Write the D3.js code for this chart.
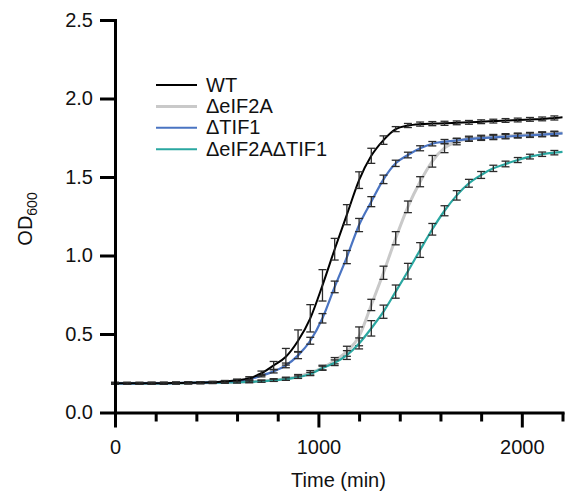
<!DOCTYPE html>
<html>
<head>
<meta charset="utf-8">
<script src="https://cdn.jsdelivr.net/npm/d3@7/dist/d3.min.js"></script>
<style>
  html, body { margin: 0; padding: 0; background: #fff; }
  svg { display: block; font-family: Arial, "Liberation Sans", Helvetica, sans-serif; }
</style>
</head>
<body>
<svg id="chart" width="568" height="496"></svg>
<script>
// Sampling times (min); the final entry only carries the curve to the axis end
const times = [0, 60, 120, 180, 240, 300, 360, 420, 480, 540, 600, 660, 720, 780, 840, 900,
  960, 1020, 1080, 1140, 1200, 1260, 1320, 1380, 1440, 1500, 1560, 1620, 1680, 1740, 1800,
  1860, 1920, 1980, 2040, 2100, 2160, 2200];

const seriesNames = ["WT", "ΔeIF2A", "ΔTIF1", "ΔeIF2AΔTIF1"];

// Mean OD600 for each strain
const wtOD = [0.186, 0.186, 0.186, 0.187, 0.187, 0.188, 0.189, 0.190, 0.193, 0.198, 0.205, 0.218,
  0.250, 0.300, 0.355, 0.457, 0.600, 0.810, 1.040, 1.260, 1.480, 1.635, 1.735, 1.805, 1.828,
  1.837, 1.840, 1.842, 1.845, 1.848, 1.852, 1.856, 1.860, 1.863, 1.867, 1.870, 1.876, 1.880];
const eif2aOD = [0.186, 0.186, 0.186, 0.186, 0.186, 0.187, 0.188, 0.189, 0.190, 0.192, 0.194, 0.196,
  0.200, 0.207, 0.215, 0.230, 0.253, 0.285, 0.330, 0.390, 0.485, 0.685, 0.890, 1.110, 1.310,
  1.470, 1.600, 1.685, 1.725, 1.745, 1.752, 1.757, 1.762, 1.766, 1.770, 1.774, 1.778, 1.780];
const tif1OD = [0.186, 0.186, 0.186, 0.187, 0.187, 0.188, 0.189, 0.190, 0.193, 0.197, 0.203, 0.212,
  0.235, 0.262, 0.300, 0.364, 0.457, 0.600, 0.800, 0.990, 1.194, 1.343, 1.485, 1.587, 1.640,
  1.683, 1.712, 1.725, 1.733, 1.741, 1.747, 1.752, 1.757, 1.762, 1.766, 1.770, 1.775, 1.778];
const doubleOD = [0.186, 0.186, 0.186, 0.186, 0.186, 0.187, 0.188, 0.189, 0.190, 0.191, 0.193, 0.195,
  0.199, 0.205, 0.213, 0.225, 0.245, 0.283, 0.317, 0.366, 0.440, 0.536, 0.642, 0.770, 0.900,
  1.035, 1.167, 1.285, 1.383, 1.460, 1.513, 1.555, 1.583, 1.608, 1.630, 1.645, 1.655, 1.660];

// Standard deviations (null = no error bar)
const wtSD = [0.005, 0.005, 0.005, 0.005, 0.005, 0.005, 0.005, 0.005, 0.005, 0.006, 0.008, 0.010,
  0.014, 0.025, 0.053, 0.069, 0.087, 0.100, 0.069, 0.064, 0.053, 0.048, 0.027, 0.016, 0.013,
  0.013, 0.013, 0.013, 0.012, 0.012, 0.012, 0.012, 0.012, 0.012, 0.012, 0.012, 0.013, null];
const eif2aSD = [0.005, 0.005, 0.005, 0.005, 0.005, 0.005, 0.005, 0.005, 0.005, 0.005, 0.005, 0.005,
  0.006, 0.008, 0.010, 0.012, 0.014, 0.016, 0.020, 0.032, 0.060, 0.036, 0.042, 0.042, 0.037,
  0.032, 0.037, 0.030, 0.020, 0.015, 0.014, 0.014, 0.014, 0.014, 0.014, 0.014, 0.014, null];
const tif1SD = [0.005, 0.005, 0.005, 0.005, 0.005, 0.005, 0.005, 0.005, 0.005, 0.005, 0.005, 0.006,
  0.008, 0.010, 0.015, 0.021, 0.022, 0.030, 0.037, 0.042, 0.042, 0.032, 0.027, 0.020, 0.018,
  0.016, 0.014, 0.014, 0.014, 0.014, 0.014, 0.014, 0.014, 0.014, 0.014, 0.014, 0.014, null];
const doubleSD = [0.005, 0.005, 0.005, 0.005, 0.005, 0.005, 0.005, 0.005, 0.005, 0.005, 0.005, 0.005,
  0.006, 0.007, 0.008, 0.008, 0.010, 0.012, 0.018, 0.028, 0.035, 0.049, 0.042, 0.042, 0.050,
  0.047, 0.037, 0.032, 0.030, 0.025, 0.022, 0.020, 0.018, 0.016, 0.015, 0.014, 0.014, null];

const yTicks = [0, 0.5, 1.0, 1.5, 2.0, 2.5];
const xMajorTicks = [0, 1000, 2000];
const xMinorTicks = [200, 400, 600, 800, 1200, 1400, 1600, 1800, 2200];

const colors = {
  "WT": "#000000",
  "ΔeIF2A": "#c9c9c9",
  "ΔTIF1": "#4a74c2",
  "ΔeIF2AΔTIF1": "#2aa7a1"
};
const widths = { "WT": 2, "ΔeIF2A": 3, "ΔTIF1": 2.2, "ΔeIF2AΔTIF1": 2.2 };

const series = [
  { name: "WT", od: wtOD, sd: wtSD },
  { name: "ΔeIF2A", od: eif2aOD, sd: eif2aSD },
  { name: "ΔTIF1", od: tif1OD, sd: tif1SD },
  { name: "ΔeIF2AΔTIF1", od: doubleOD, sd: doubleSD }
];

const svg = d3.select("#chart");
const x = d3.scaleLinear().domain([0, 2200]).range([115, 562.5]);
const y = d3.scaleLinear().domain([0, 2.5]).range([412.5, 20]);

const font = "Arial, 'Liberation Sans', Helvetica, sans-serif";

// Curves, drawn back to front, each with its error bars on top
const drawOrder = ["ΔeIF2A", "ΔeIF2AΔTIF1", "ΔTIF1", "WT"];
const line = d3.line()
  .x(d => x(d.t))
  .y(d => y(d.v))
  .curve(d3.curveMonotoneX);

drawOrder.forEach(name => {
  const s = series.find(d => d.name === name);
  const pts = times.map((t, i) => ({ t, v: s.od[i], e: s.sd[i] }));
  const g = svg.append("g");
  g.append("path")
    .datum(pts)
    .attr("fill", "none")
    .attr("stroke", colors[name])
    .attr("stroke-width", widths[name])
    .attr("d", line);

  const bars = g.selectAll("g.eb")
    .data(pts.filter(d => d.e != null))
    .join("g")
    .attr("class", "eb")
    .attr("stroke", "#2b2b2b")
    .attr("stroke-width", 1.3)
    .attr("fill", "none");
  bars.append("line")
    .attr("x1", d => x(d.t)).attr("x2", d => x(d.t))
    .attr("y1", d => y(d.v - d.e)).attr("y2", d => y(d.v + d.e));
  bars.append("line")
    .attr("x1", d => x(d.t) - 4).attr("x2", d => x(d.t) + 4)
    .attr("y1", d => y(d.v + d.e)).attr("y2", d => y(d.v + d.e));
  bars.append("line")
    .attr("x1", d => x(d.t) - 4).attr("x2", d => x(d.t) + 4)
    .attr("y1", d => y(d.v - d.e)).attr("y2", d => y(d.v - d.e));
});

// Axes
const yAxis = svg.append("g")
  .attr("transform", "translate(115,0)")
  .call(d3.axisLeft(y).tickValues(yTicks).tickFormat(d3.format(".1f")).tickSize(15).tickSizeOuter(0).tickPadding(7));

const xAxisMinor = svg.append("g")
  .attr("transform", "translate(0,412.5)")
  .call(d3.axisBottom(x).tickValues(xMinorTicks).tickFormat("").tickSize(9).tickSizeOuter(0));

const xAxis = svg.append("g")
  .attr("transform", "translate(0,412.5)")
  .call(d3.axisBottom(x).tickValues(xMajorTicks).tickFormat(d3.format("d")).tickSize(15).tickSizeOuter(0).tickPadding(12));

[yAxis, xAxis, xAxisMinor].forEach(ax => {
  ax.selectAll("path.domain").attr("stroke", "#000").attr("stroke-width", 3).attr("stroke-linecap", "square");
  ax.selectAll(".tick line").attr("stroke", "#000").attr("stroke-width", 3);
  ax.selectAll(".tick text").attr("fill", "#111").style("font-size", "20px").style("font-family", font);
});
xAxisMinor.select("path.domain").remove();

// Axis titles
svg.append("text")
  .attr("x", 338.5).attr("y", 487)
  .attr("text-anchor", "middle")
  .style("font-size", "20px").style("font-family", font)
  .attr("fill", "#111")
  .text("Time (min)");

const yTitle = svg.append("text")
  .attr("transform", "translate(32,219) rotate(-90)")
  .attr("text-anchor", "middle")
  .style("font-size", "20px").style("font-family", font)
  .attr("fill", "#111");
yTitle.append("tspan").text("OD");
yTitle.append("tspan").attr("dy", 5).style("font-size", "14px").text("600");

// Legend
const legend = svg.append("g");
seriesNames.forEach((name, i) => {
  const ly = 85 + i * 21.4;
  legend.append("line")
    .attr("x1", 156).attr("x2", 197)
    .attr("y1", ly).attr("y2", ly)
    .attr("stroke", colors[name])
    .attr("stroke-width", name === "ΔeIF2A" ? 3 : 2);
  legend.append("text")
    .attr("x", 206).attr("y", ly + 6.5)
    .style("font-size", "20px").style("font-family", font)
    .attr("fill", "#111")
    .text(name);
});
</script>
</body>
</html>
